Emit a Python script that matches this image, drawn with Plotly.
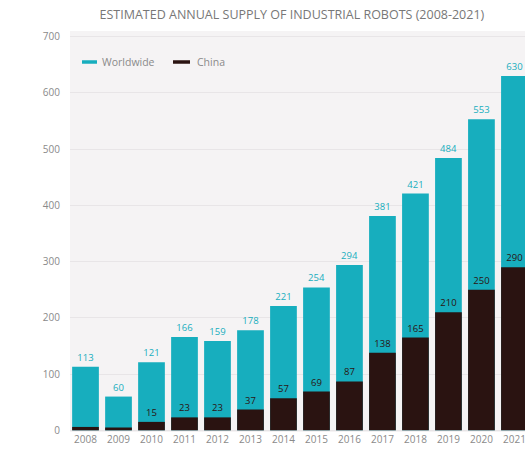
import plotly.graph_objects as go

years = ["2008", "2009", "2010", "2011", "2012", "2013", "2014", "2015", "2016", "2017", "2018", "2019", "2020", "2021"]
worldwide = [113, 60, 121, 166, 159, 178, 221, 254, 294, 381, 421, 484, 553, 630]
china = [6, 5, 15, 23, 23, 37, 57, 69, 87, 138, 165, 210, 250, 290]
china_labels = ["", "", "15", "23", "23", "37", "57", "69", "87", "138", "165", "210", "250", "290"]
y_ticks = [0, 100, 200, 300, 400, 500, 600, 700]
series_names = ["Worldwide", "China"]

TEAL = "#17aebe"
DARK = "#2a1311"
GRAY = "#8a8a8a"
FONT = "Open Sans"

fig = go.Figure()
fig.add_trace(go.Bar(
    x=years, y=worldwide, marker=dict(color=TEAL, line=dict(width=0)),
    text=[str(v) for v in worldwide], textposition="outside",
    textfont=dict(color=TEAL, size=9.5, family=FONT), cliponaxis=False,
    showlegend=False, name=series_names[0]))
fig.add_trace(go.Bar(
    x=years, y=china, marker=dict(color=DARK, line=dict(width=0)),
    text=china_labels, textposition="outside",
    textfont=dict(color=DARK, size=9.5, family=FONT), cliponaxis=False,
    showlegend=False, name=series_names[1]))

# Legend drawn as short line swatches + labels (paper coordinates)
legend_items = [(0.0264, 0.0593, 0.0659, TEAL, series_names[0]),
                (0.2264, 0.2637, 0.2747, DARK, series_names[1])]
for x0, x1, xt, col, label in legend_items:
    fig.add_shape(type="line", xref="paper", yref="paper", x0=x0, x1=x1,
                  y0=0.9227, y1=0.9227, line=dict(color=col, width=3.5))
    fig.add_annotation(xref="paper", yref="paper", x=xt, y=0.9227, text=label,
                       showarrow=False, xanchor="left", yanchor="middle",
                       font=dict(size=10.5, color=GRAY, family=FONT))

fig.update_layout(
    width=525, height=451,
    barmode="overlay", bargap=0.19,
    margin=dict(l=70, r=0, t=31, b=19),
    paper_bgcolor="white", plot_bgcolor="#f5f3f4",
    font=dict(family=FONT, color=GRAY, size=10),
    showlegend=False,
    title=dict(text="ESTIMATED ANNUAL SUPPLY OF INDUSTRIAL ROBOTS (2008-2021)",
               x=0.556, xanchor="center", y=0.967, yanchor="middle",
               font=dict(size=12.5, color="#777777", family=FONT)),
    xaxis=dict(range=[-0.47, 13.32], showgrid=False, ticks="", showline=False,
               tickfont=dict(size=10, color=GRAY), tickangle=0),
    yaxis=dict(range=[-3, 710], tickvals=y_ticks, showgrid=True, gridcolor="#e8e5e7",
               gridwidth=1, zeroline=False, showline=False, ticks="",
               tickfont=dict(size=10, color=GRAY), ticklabelstandoff=9),
)

fig.write_html("out.html", config={"displayModeBar": False},
               post_script="document.body.style.margin='0';document.body.style.overflow='hidden';")
